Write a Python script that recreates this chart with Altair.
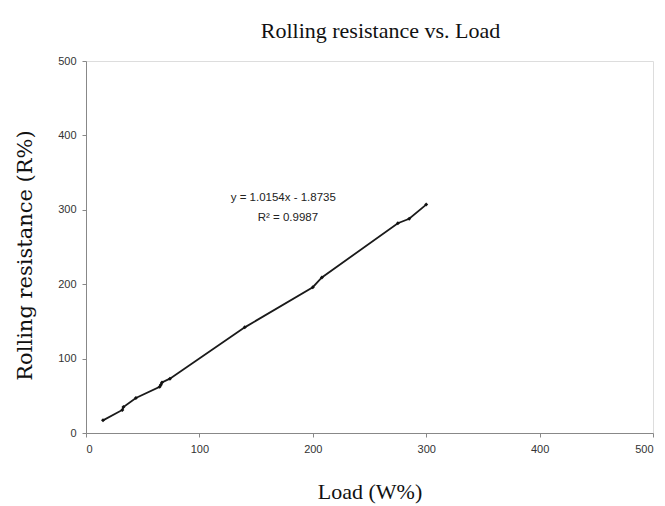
import altair as alt
import pandas as pd

load = [15, 32, 33, 44, 65, 66, 67, 74, 140, 200, 208, 275, 285, 300]
resistance = [17, 31, 35, 47, 62, 65, 68, 73, 142, 196, 209, 282, 288, 307]

eq_text = ["y = 1.0154x - 1.8735", "R\u00b2 = 0.9987"]
eq_x = [174, 178]
eq_y = [316, 289]

df = pd.DataFrame({"load": load, "res": resistance})
ann = pd.DataFrame({"t": eq_text, "x": eq_x, "y": eq_y})

xscale = alt.Scale(domain=[0, 500], nice=False)
yscale = alt.Scale(domain=[0, 500], nice=False)

xaxis = alt.Axis(
    title="Load (W%)", values=[0, 100, 200, 300, 400, 500], grid=False,
    titleFont="Liberation Serif", titleFontSize=22, titleFontWeight="normal",
    titleColor="#111", titlePadding=27,
    labelFont="Liberation Sans", labelFontSize=11, labelColor="#333",
    labelPadding=6, tickSize=4, tickColor="#888", domainColor="#888",
)
yaxis = alt.Axis(
    title="Rolling resistance (R%)", values=[0, 100, 200, 300, 400, 500], grid=False,
    titleFont="DejaVu Serif", titleFontSize=21, titleFontWeight="normal",
    titleColor="#111", titlePadding=22, titleY=194,
    labelFont="Liberation Sans", labelFontSize=11, labelColor="#333",
    labelPadding=6, tickSize=4, tickColor="#888", domainColor="#888",
)

line = alt.Chart(df).mark_line(
    color="#1a1a1a", strokeWidth=1.8,
    point=alt.OverlayMarkDef(filled=True, color="#111", size=16, shape="diamond"),
).encode(
    x=alt.X("load:Q", scale=xscale, axis=xaxis),
    y=alt.Y("res:Q", scale=yscale, axis=yaxis),
)

text = alt.Chart(ann).mark_text(
    font="Liberation Sans", fontSize=11.5, color="#222", align="center",
).encode(
    x=alt.X("x:Q", scale=xscale),
    y=alt.Y("y:Q", scale=yscale),
    text="t:N",
)

chart = alt.layer(line, text).properties(
    width=567, height=372,
    title=alt.TitleParams(
        "Rolling resistance vs. Load", font="Liberation Serif", fontSize=22,
        fontWeight="normal", color="#111", anchor="middle", offset=12, dx=11,
    ),
    autosize=alt.AutoSizeParams(type="none"),
    padding={"left": 86, "top": 61, "right": 12, "bottom": 73},
).configure_view(stroke="#777", strokeWidth=1.2).configure(background="white")

chart.save("out.html", embed_options={"renderer": "svg", "actions": False})
